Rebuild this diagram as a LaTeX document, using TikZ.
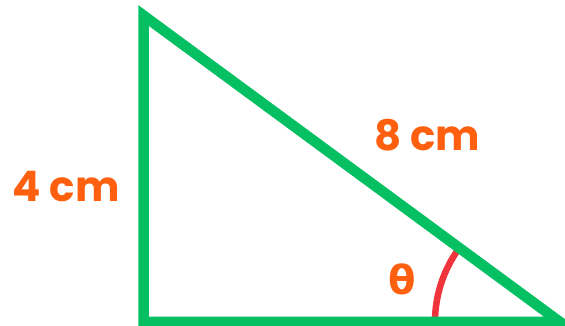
\documentclass[tikz,border=0pt]{standalone}
\usepackage{fontspec}
\setmainfont{Poppins}
\newfontfamily\greekfont{DejaVu Sans}
\definecolor{trigreen}{RGB}{5,192,98}
\definecolor{lblorange}{RGB}{255,96,16}
\definecolor{arcred}{RGB}{240,52,60}
\begin{document}
\begin{tikzpicture}[x=1pt,y=1pt,
  side/.style={draw=trigreen,line width=10.5pt,line join=miter},
  lbl/.style={text=lblorange,font=\fontsize{42}{46}\selectfont\bfseries,inner sep=0pt},
  anglearc/.style={draw=arcred,line width=6.5pt}]
\useasboundingbox (0,0) rectangle (565,326);
\coordinate (A) at (143.5,310.5);
\coordinate (B) at (143.5,4);
\coordinate (C) at (560,4);
\draw[anglearc] ([xshift=-125pt]C) arc[start angle=180,end angle=143.65,radius=125];
\draw[side] (A) -- (B) -- (C) -- cycle;
\node[lbl] (opp) at (66,139) {4 cm};
\node[lbl] (hyp) at (427,191) {8 cm};
\node[lbl,font=\fontsize{40}{44}\selectfont\bfseries\greekfont] (theta) at (402,47) {θ};
\end{tikzpicture}
\end{document}
